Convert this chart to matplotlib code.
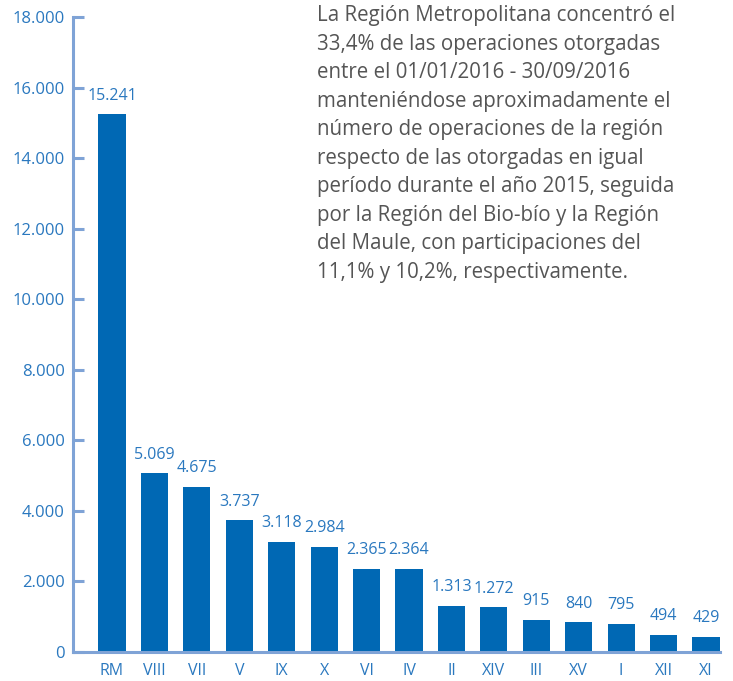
import numpy as np
import matplotlib.pyplot as plt

plt.rcParams.update({
    "font.family": ["Open Sans", "DejaVu Sans"],
})

# ---------------- data ----------------
regions = ["RM", "VIII", "VII", "V", "IX", "X", "VI", "IV", "II", "XIV",
           "III", "XV", "I", "XII", "XI"]
operations = [15241, 5069, 4675, 3737, 3118, 2984, 2365, 2364, 1313, 1272,
              915, 840, 795, 494, 429]
yticks = [0, 2000, 4000, 6000, 8000, 10000, 12000, 14000, 16000, 18000]

note = ("La Región Metropolitana concentró el\n"
        "33,4% de las operaciones otorgadas\n"
        "entre el 01/01/2016 - 30/09/2016\n"
        "manteniéndose aproximadamente el\n"
        "número de operaciones de la región\n"
        "respecto de las otorgadas en igual\n"
        "período durante el año 2015, seguida\n"
        "por la Región del Bio-bío y la Región\n"
        "del Maule, con participaciones del\n"
        "11,1% y 10,2%, respectivamente.")

BAR = "#0068b4"
AXIS = "#7fa3d6"
LABEL = "#2a78bf"
TEXT = "#555555"


def fmt(v):
    return f"{v:,}".replace(",", ".")


fig = plt.figure(figsize=(7.33, 6.81), dpi=100)
ax = fig.add_axes([73 / 733, 29 / 681, (720 - 73) / 733, (652 - 17) / 681])

x = np.arange(len(regions))
ax.bar(x, operations, width=0.64, color=BAR, zorder=2)

for xi, v in zip(x, operations):
    ax.text(xi, v + 300, fmt(v), ha="center", va="bottom",
            fontsize=11.5, color=LABEL)

ax.set_xlim(-0.92, 14.33)
ax.set_ylim(0, 18000)
ax.set_yticks(yticks)
ax.set_yticklabels([fmt(t) for t in yticks])
ax.set_xticks(x)
ax.set_xticklabels(regions)

for s in ["top", "right"]:
    ax.spines[s].set_visible(False)
for s in ["left", "bottom"]:
    ax.spines[s].set_color(AXIS)
    ax.spines[s].set_linewidth(2.2)
    ax.spines[s].set_zorder(3)

ax.tick_params(axis="y", direction="in", length=8, width=2.2, color=AXIS,
               labelcolor=LABEL, labelsize=12, pad=6)
ax.tick_params(axis="x", length=0, labelcolor=LABEL, labelsize=11.5, pad=8)

fig.text(317 / 733, 1 - 5 / 681, note, ha="left", va="top",
         fontsize=14.8, color=TEXT, linespacing=1.47)

fig.savefig("out.png", dpi=100)
